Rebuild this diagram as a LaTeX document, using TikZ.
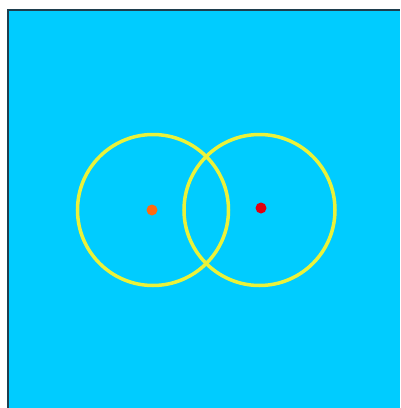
\documentclass[tikz,border=0pt]{standalone}
\definecolor{skyc}{HTML}{00CCFF}
\definecolor{ringc}{HTML}{EAF23A}
\definecolor{framec}{HTML}{1E3E4E}
\definecolor{dotA}{HTML}{FF6A10}
\definecolor{dotB}{HTML}{E00010}
\tikzset{
  ring/.style={circle, draw=ringc, line width=3.5pt, minimum size=151pt, inner sep=0pt},
  dot/.style={circle, fill=#1, minimum size=11pt, inner sep=0pt}
}
\begin{document}
\begin{tikzpicture}[x=1pt,y=-1pt]
\useasboundingbox (0,0) rectangle (400,408);
\fill[white] (0,0) rectangle (400,408);
\fill[skyc] (8,10) rectangle (400,408);
\draw[framec, line width=2pt] (8,408) -- (8,10) -- (400,10);
\node[ring] (left) at (153,210) {};
\node[ring] (right) at (259.5,210) {};
\node[dot=dotA] (ca) at (152,210) {};
\node[dot=dotB] (cb) at (261,208) {};
\end{tikzpicture}
\end{document}
